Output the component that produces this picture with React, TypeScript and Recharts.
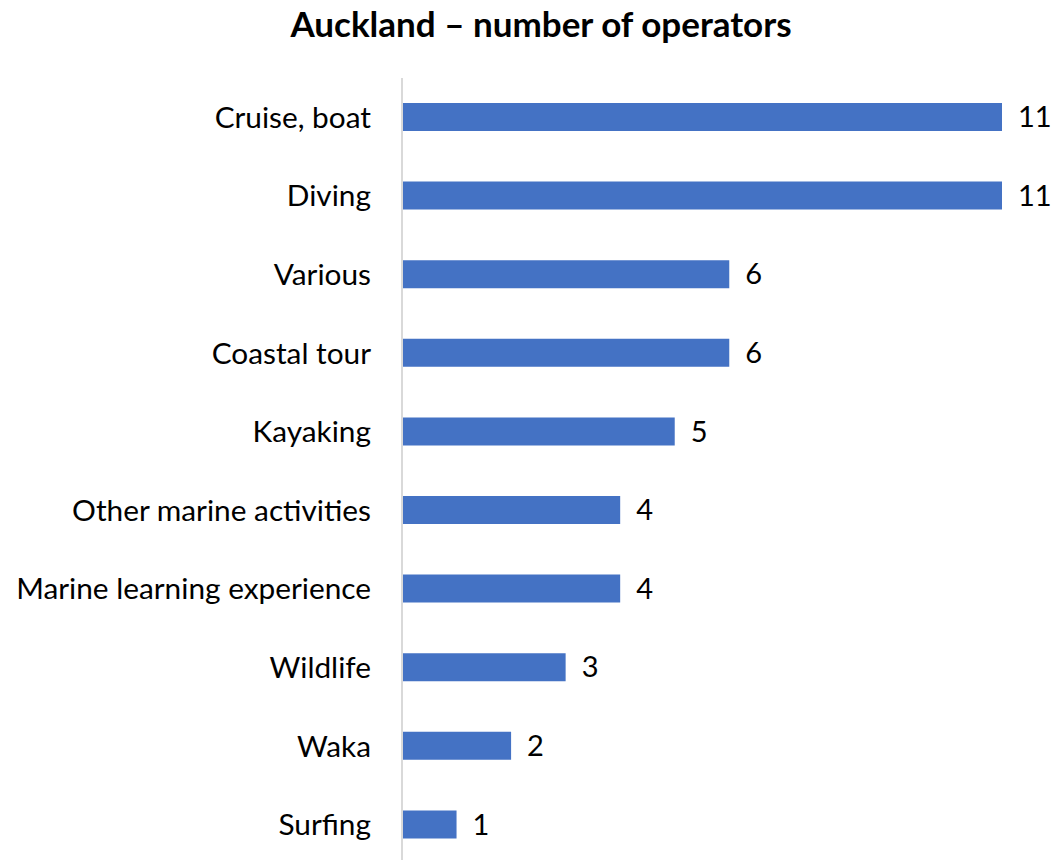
import React from "react";
import { BarChart, Bar, XAxis, YAxis, LabelList } from "recharts";

const categories = [
  "Cruise, boat",
  "Diving",
  "Various",
  "Coastal tour",
  "Kayaking",
  "Other marine activities",
  "Marine learning experience",
  "Wildlife",
  "Waka",
  "Surfing",
];
const operators = [11, 11, 6, 6, 5, 4, 4, 3, 2, 1];
const chartTitle = "Auckland \u2013 number of operators";

const data = categories.map((name, i) => ({ name, value: operators[i] }));

const FONT = "Lato, 'Open Sans', sans-serif";

export default function App() {
  return (
    <div style={{ position: "relative", width: 1053, height: 870, fontFamily: FONT }}>
      <style>{`body{margin:0;overflow:hidden;background:#fff}`}</style>
      <div
        style={{
          position: "absolute",
          left: 0,
          width: 1082,
          top: 2,
          textAlign: "center",
          fontSize: 35,
          fontWeight: 700,
          color: "#000",
          fontFamily: FONT,
        }}
      >
        {chartTitle}
      </div>
      <BarChart
        width={1053}
        height={870}
        data={data}
        layout="vertical"
        margin={{ top: 78, right: 51, bottom: 6, left: 0 }}
      >
        <XAxis type="number" domain={[0, 11]} hide />
        <YAxis
          type="category"
          dataKey="name"
          width={402}
          axisLine={{ stroke: "#d9d9d9", strokeWidth: 2 }}
          tickLine={false}
          tickSize={0}
          tickMargin={31}
          tick={{ fill: "#000", fontSize: 29.8, fontFamily: FONT }}
          interval={0}
        />
        <Bar dataKey="value" fill="#4472C4" barSize={28} isAnimationActive={false}>
          <LabelList
            dataKey="value"
            position="right"
            offset={16}
            style={{ fill: "#000", fontSize: 29, fontFamily: FONT }}
          />
        </Bar>
      </BarChart>
    </div>
  );
}
